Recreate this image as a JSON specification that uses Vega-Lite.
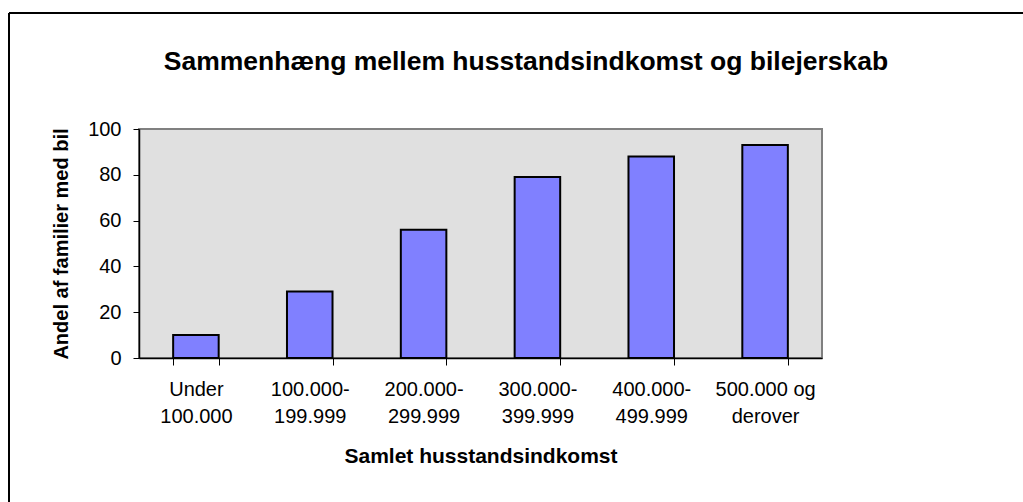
{
  "$schema": "https://vega.github.io/schema/vega-lite/v6.json",
  "width": 1014,
  "height": 489,
  "autosize": "none",
  "padding": {"left": 9, "top": 13, "right": 0, "bottom": 0},
  "background": "white",
  "title": {
    "text": "Sammenhæng mellem husstandsindkomst og bilejerskab",
    "font": "Liberation Sans",
    "fontSize": 26.5,
    "fontWeight": "bold",
    "color": "black",
    "anchor": "middle",
    "offset": -63,
    "dx": 10
  },
  "config": {
    "view": {"fill": "white", "stroke": null}
  },
  "data": {
    "values": [
      {"indkomst": "Under|100.000", "andel": 10},
      {"indkomst": "100.000-|199.999", "andel": 29},
      {"indkomst": "200.000-|299.999", "andel": 56},
      {"indkomst": "300.000-|399.999", "andel": 79},
      {"indkomst": "400.000-|499.999", "andel": 88},
      {"indkomst": "500.000 og|derover", "andel": 93}
    ]
  },
  "resolve": {"scale": {"x": "independent"}, "axis": {"x": "independent"}},
  "layer": [
    {
      "layer": [
        {
          "mark": {"type": "rect", "fill": "#e0e0e0", "stroke": "#808080", "strokeWidth": 2},
          "encoding": {
            "x": {"datum": 0, "type": "quantitative", "scale": {"domain": [0, 6], "range": [130, 813], "nice": false, "zero": false}, "axis": null},
            "x2": {"datum": 6},
            "y": {"datum": 0, "type": "quantitative", "scale": {"domain": [0, 100], "range": [345, 116], "nice": false, "zero": false}},
            "y2": {"datum": 100}
          }
        },
        {
          "mark": {"type": "rule", "color": "black", "strokeWidth": 2},
          "encoding": {
            "x": {"datum": -1.14202, "type": "quantitative", "scale": {"domain": [0, 6], "range": [130, 813], "nice": false, "zero": false}, "axis": null},
            "y": {"datum": -62.882, "type": "quantitative", "scale": {"domain": [0, 100], "range": [345, 116], "nice": false, "zero": false}},
            "y2": {"datum": 150.655}
          }
        },
        {
          "mark": {"type": "rule", "color": "black", "strokeWidth": 2},
          "encoding": {
            "y": {"datum": 150.655, "type": "quantitative", "scale": {"domain": [0, 100], "range": [345, 116], "nice": false, "zero": false}},
            "x": {"datum": -1.14202, "type": "quantitative", "scale": {"domain": [0, 6], "range": [130, 813], "nice": false, "zero": false}, "axis": null},
            "x2": {"datum": 7.76574}
          }
        }
      ]
    },
    {
      "mark": {"type": "bar", "color": "#8080ff", "stroke": "black", "strokeWidth": 2},
      "encoding": {
        "x": {
          "field": "indkomst",
          "type": "nominal",
          "sort": null,
          "scale": {"paddingInner": 0.6, "paddingOuter": 0.3, "range": [130, 813]},
          "axis": {
            "orient": "bottom",
            "zindex": 1,
            "title": "Samlet husstandsindkomst",
            "titleFont": "Liberation Sans",
            "titleFontSize": 21,
            "titleFontWeight": "bold",
            "titleColor": "black",
            "titlePadding": 19,
            "offset": -144,
            "labelExpr": "split(datum.label, '|')",
            "labelFont": "Liberation Sans",
            "labelFontSize": 20,
            "labelColor": "black",
            "labelAngle": 0,
            "labelPadding": 14,
            "labelLineHeight": 27,
            "domainColor": "black",
            "domainWidth": 1.5,
            "tickColor": "black",
            "tickSize": 7,
            "tickBand": "extent",
            "grid": false
          }
        },
        "y": {
          "field": "andel",
          "type": "quantitative",
          "scale": {"domain": [0, 100], "range": [345, 116], "nice": false, "zero": false},
          "axis": {
            "orient": "left",
            "zindex": 1,
            "title": "Andel af familier med bil",
            "titleFont": "Liberation Sans",
            "titleFontSize": 20,
            "titleFontWeight": "bold",
            "titleColor": "black",
            "titlePadding": 16,
            "offset": -130,
            "values": [0, 20, 40, 60, 80, 100],
            "labelFont": "Liberation Sans",
            "labelFontSize": 20,
            "labelColor": "black",
            "labelPadding": 12,
            "domainColor": "black",
            "domainWidth": 1.5,
            "tickColor": "black",
            "tickSize": 6,
            "grid": false
          }
        }
      }
    }
  ]
}
